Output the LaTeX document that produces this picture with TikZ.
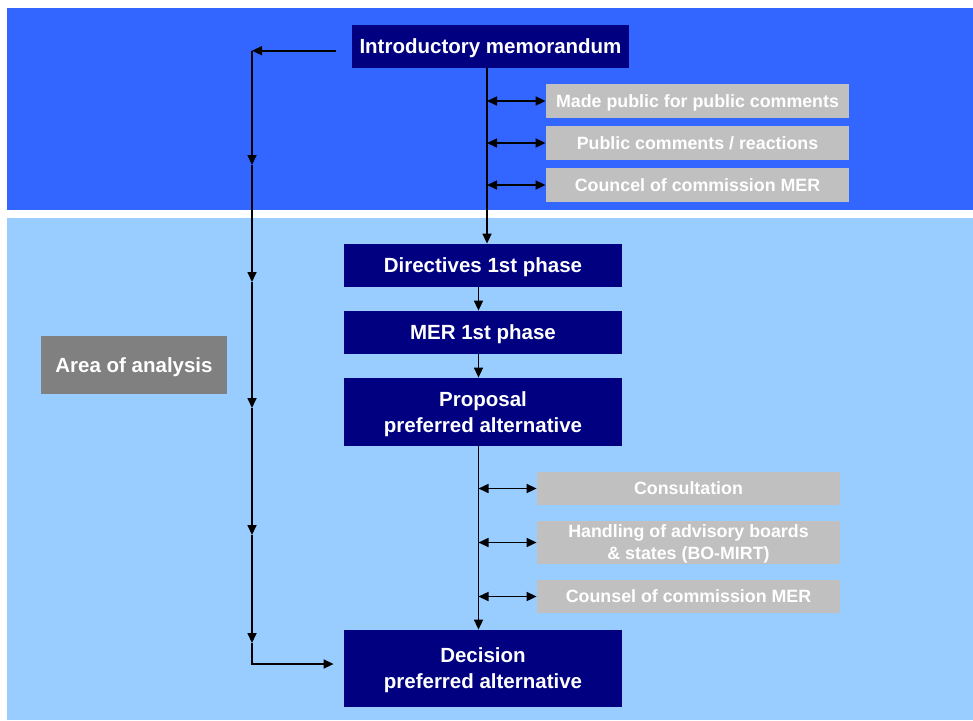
\documentclass[tikz,border=0pt]{standalone}
\usepackage{fontspec}
\setmainfont{Liberation Sans}
\usepackage{tikz}
\usetikzlibrary{arrows.meta, positioning, calc}
\definecolor{bandtop}{RGB}{51, 102, 255}
\definecolor{bandlow}{RGB}{153, 204, 255}
\definecolor{stagebox}{RGB}{0, 0, 128}
\definecolor{notebox}{RGB}{192, 192, 192}
\definecolor{areabox}{RGB}{128, 128, 128}

\begin{document}
\begin{tikzpicture}[x=0.5pt, y=-0.5pt,
    stage/.style={fill=stagebox, text=white, inner sep=0pt, minimum width=139pt, minimum height=21.5pt,
        align=center, text depth=0pt, font=\fontsize{10.25}{13}\selectfont\bfseries},
    note/.style={fill=notebox, text=white, inner sep=0pt, minimum width=151.5pt, minimum height=17pt,
        align=center, text depth=0pt, font=\fontsize{8.9}{11}\selectfont\bfseries},
    flow/.style={line width=0.8pt, -{Triangle[length=5pt, width=4.5pt]}},
    both/.style={line width=0.8pt, {Triangle[length=5pt, width=4.5pt]}-{Triangle[length=5pt, width=4.5pt]}}]
    \useasboundingbox (0,0) rectangle (973,720);
    \fill[bandtop] (7,8) rectangle (973,210);
    \fill[bandlow] (7,218) rectangle (973,720);

    % procedure steps
    \node[stage, minimum width=138.5pt] (memo) at (490.5,46.5) {Introductory memorandum};
    \node[stage] (dir) at (483,265.5) {Directives 1st phase};
    \node[stage] (mer) at (483,332.5) {MER 1st phase};
    \node[stage, minimum height=34pt] (prop) at (483,412) {Proposal\\preferred alternative};
    \node[stage, minimum height=38.5pt] (dec) at (483,668.5) {Decision\\preferred alternative};

    % side activities
    \node[note] (pub) at (697.5,101) {Made public for public comments};
    \node[note] (react) at (697.5,143) {Public comments / reactions};
    \node[note] (councel) at (697.5,185) {Councel of commission MER};
    \node[note, minimum height=16.5pt] (cons) at (688.5,488.5) {Consultation};
    \node[note, minimum height=21.5pt] (boards) at (688.5,542.5) {Handling of advisory boards\\\& states (BO-MIRT)};
    \node[note, minimum height=16.5pt] (counsel) at (688.5,596.5) {Counsel of commission MER};

    \node[fill=areabox, text=white, inner sep=0pt, minimum width=93pt, minimum height=29pt, text depth=0pt,
        font=\fontsize{10.25}{13}\selectfont\bfseries] (area) at (134,365) {Area of analysis};

    \draw[flow] ([xshift=-1.75pt]memo.south) -- ([xshift=-1.75pt]memo.south |- dir.north);
    \draw[flow] ([xshift=-2.25pt]dir.south) -- ([xshift=-2.25pt]mer.north);
    \draw[flow] ([xshift=-2.25pt]mer.south) -- ([xshift=-2.25pt]prop.north);
    \draw[flow] ([xshift=-2.25pt]prop.south) -- ([xshift=-2.25pt]dec.north);
    \foreach \n in {pub, react, councel}
        \draw[both] ([xshift=-1.75pt]memo.south |- \n.west) -- (\n.west);
    \foreach \n in {cons, boards, counsel}
        \draw[both] ([xshift=-2.25pt]prop.south |- \n.west) -- (\n.west);

    % area of analysis line
    \coordinate (tap) at ([xshift=-8pt]memo.west |- 0,50.7);
    \coordinate (top) at (252,50.7);
    \coordinate (bottom) at (252,664);
    \draw[flow] (tap) -- (top);
    \draw[flow] (top) -- (252,165);
    \foreach \a/\b in {165/282, 282/408, 408/535, 535/643}
        \draw[flow] (252,\a) -- (252,\b);
    \draw[flow] (252,643) -- (bottom) -- ([xshift=-5pt]bottom -| dec.west);
\end{tikzpicture}
\end{document}
